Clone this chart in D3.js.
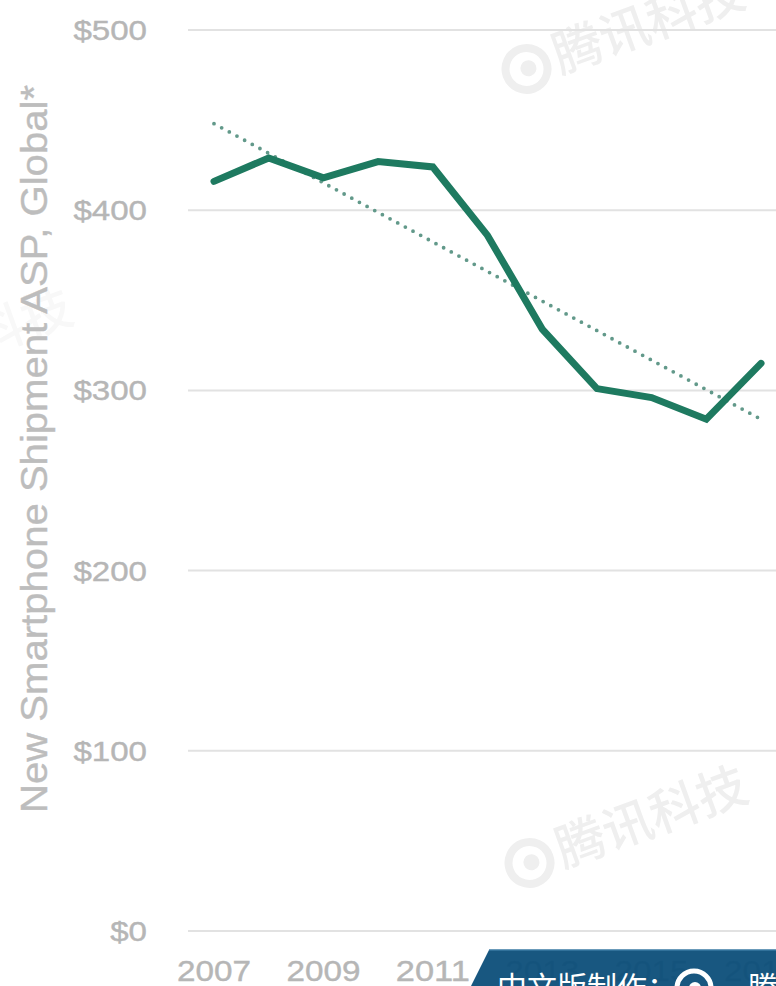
<!DOCTYPE html>
<html>
<head>
<meta charset="utf-8">
<script src="https://cdn.jsdelivr.net/npm/d3@7"></script>
<style>
html,body{margin:0;padding:0;background:#fff;overflow:hidden;}
svg{display:block;}
</style>
</head>
<body>
<svg id="chart" width="776" height="986"></svg>
<script>
// ---- data ----
const years = [2007, 2008, 2009, 2010, 2011, 2012, 2013, 2014, 2015, 2016, 2017];
const asp = [416, 429, 418, 427, 424, 386, 334, 301, 296, 284, 315];
const trendYears = [2007, 2017];
const trendValues = [448, 284];
const yTicks = [0, 100, 200, 300, 400, 500];
const yTickLabels = ["$0", "$100", "$200", "$300", "$400", "$500"];
const xTicks = [2007, 2009, 2011, 2013, 2015, 2017];
const xTickLabels = ["2007", "2009", "2011", "2013", "2015", "2017"];
const yTitle = "New Smartphone Shipment ASP, Global*";
const watermark = "腾讯科技";
const bannerText = "中文版制作：";

// ---- layout ----
const W = 776, H = 986;
const svg = d3.select("#chart");
const x = d3.scaleLinear().domain([2007, 2017]).range([214, 761]);
const y = d3.scaleLinear().domain([0, 500]).range([931, 30]);

// watermarks
function mark(cx, cy, col) {
  const g = svg.append("g").attr("transform", `translate(${cx},${cy}) rotate(-20)`);
  g.append("circle").attr("cx", 0).attr("cy", -16).attr("r", 21)
    .attr("fill", "none").attr("stroke", col).attr("stroke-width", 8);
  g.append("circle").attr("cx", 2).attr("cy", -16).attr("r", 8).attr("fill", col);
  g.append("text").attr("x", 30).attr("y", 0)
    .attr("font-family", "'Noto Sans CJK SC'").attr("font-weight", 500)
    .attr("font-size", 50).attr("fill", col).text(watermark);
}
mark(532, 84, "#efefef");
mark(535, 878, "#efefef");
mark(-140, 400, "#f8f8f8");

// gridlines
const grid = svg.append("g");
grid.selectAll("line").data(yTicks).join("line")
  .attr("x1", 188).attr("x2", W + 5)
  .attr("y1", d => y(d)).attr("y2", d => y(d))
  .attr("stroke", "#e2e2e2").attr("stroke-width", 2);

// y tick labels
svg.append("g").selectAll("text").data(yTicks).join("text")
  .attr("x", 147).attr("y", d => y(d) + 10)
  .attr("text-anchor", "end")
  .attr("font-family", "'Liberation Sans', Arial, sans-serif")
  .attr("font-size", 28).attr("fill", "#b6b6b6")
  .attr("stroke", "#b6b6b6").attr("stroke-width", 0.4)
  .attr("textLength", (d, i) => yTickLabels[i].length * 18.4)
  .attr("lengthAdjust", "spacingAndGlyphs")
  .text((d, i) => yTickLabels[i]);

// x tick labels
svg.append("g").selectAll("text").data(xTicks).join("text")
  .attr("x", d => x(d)).attr("y", 981)
  .attr("text-anchor", "middle")
  .attr("font-family", "'Liberation Sans', Arial, sans-serif")
  .attr("font-size", 30).attr("fill", "#b6b6b6")
  .attr("stroke", "#b6b6b6").attr("stroke-width", 0.4)
  .attr("textLength", 74)
  .attr("lengthAdjust", "spacingAndGlyphs")
  .text((d, i) => xTickLabels[i]);

// y title
svg.append("text")
  .attr("transform", "translate(47,449) rotate(-90)")
  .attr("text-anchor", "middle")
  .attr("font-family", "'Liberation Sans', Arial, sans-serif")
  .attr("font-size", 36).attr("fill", "#bdbdbd")
  .attr("stroke", "#bdbdbd").attr("stroke-width", 0.4)
  .attr("textLength", 728).attr("lengthAdjust", "spacingAndGlyphs")
  .text(yTitle);

// trend line (dotted)
const trendLine = d3.line().x(d => x(d[0])).y(d => y(d[1]));
svg.append("path")
  .datum(trendYears.map((yr, i) => [yr, trendValues[i]]))
  .attr("d", trendLine)
  .attr("fill", "none").attr("stroke", "#62998a")
  .attr("stroke-width", 3.8).attr("stroke-linecap", "round")
  .attr("stroke-dasharray", "0,8.7");

// main line
const line = d3.line().x(d => x(d[0])).y(d => y(d[1]));
svg.append("path")
  .datum(years.map((yr, i) => [yr, asp[i]]))
  .attr("d", line)
  .attr("fill", "none").attr("stroke", "#1e7a60")
  .attr("stroke-width", 7).attr("stroke-linejoin", "miter")
  .attr("stroke-linecap", "round");

// bottom banner
const banner = svg.append("g");
banner.append("path")
  .attr("d", `M470,${H + 2} L489,950 L${W + 2},950 L${W + 2},${H + 2} Z`)
  .attr("fill", "#0c4e79").attr("opacity", 0.95);
banner.append("path")
  .attr("d", `M489,950 L${W + 2},950`)
  .attr("stroke", "#3a7aa3").attr("stroke-width", 1.5);
banner.append("text")
  .attr("x", 497).attr("y", 998)
  .attr("font-family", "'Noto Sans CJK SC'").attr("font-size", 30)
  .attr("fill", "#ffffff").text(bannerText);
banner.append("circle").attr("cx", 694).attr("cy", 988).attr("r", 17)
  .attr("fill", "none").attr("stroke", "#fff").attr("stroke-width", 5);
banner.append("circle").attr("cx", 695).attr("cy", 988).attr("r", 6).attr("fill", "#fff");
banner.append("text")
  .attr("x", 748).attr("y", 998)
  .attr("font-family", "'Noto Sans CJK SC'").attr("font-size", 30)
  .attr("fill", "#ffffff").text("腾讯");
</script>
</body>
</html>
